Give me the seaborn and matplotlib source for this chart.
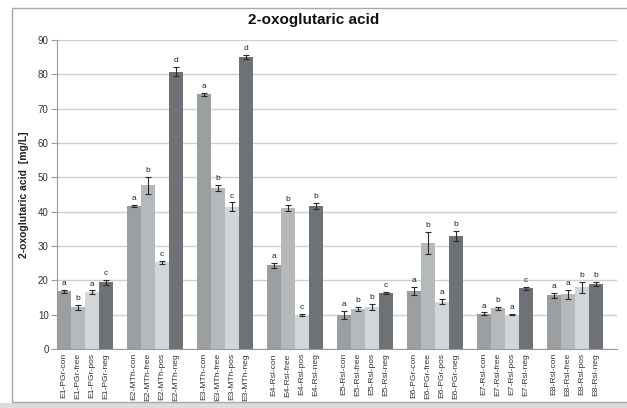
import numpy as np
import pandas as pd
import seaborn as sns
import matplotlib.pyplot as plt
from matplotlib.patches import Rectangle

groups = ["E1-PGr", "E2-MTh", "E3-MTh", "E4-Rsl", "E5-Rsl", "E6-PGr", "E7-Rsl", "E8-Rsl"]
treatments = ["con", "free", "pos", "neg"]

val_con = [16.8, 41.7, 74.2, 24.4, 9.8, 16.8, 10.3, 15.6]
val_free = [12.2, 47.7, 46.9, 41.0, 11.7, 31.0, 11.8, 16.0]
val_pos = [16.5, 25.2, 41.5, 10.0, 12.2, 13.8, 10.0, 18.0]
val_neg = [19.4, 80.8, 85.0, 41.7, 16.4, 33.0, 17.7, 18.9]

err_con = [0.4, 0.3, 0.5, 0.7, 1.2, 1.2, 0.4, 0.7]
err_free = [0.7, 2.5, 0.9, 0.8, 0.6, 3.2, 0.5, 1.3]
err_pos = [0.6, 0.5, 1.2, 0.3, 0.9, 0.8, 0.2, 1.6]
err_neg = [0.7, 1.3, 0.6, 0.8, 0.3, 1.5, 0.5, 0.6]

let_con = ["a", "a", "a", "a", "a", "a", "a", "a"]
let_free = ["b", "b", "b", "b", "b", "b", "b", "a"]
let_pos = ["a", "c", "c", "c", "b", "a", "a", "b"]
let_neg = ["c", "d", "d", "b", "c", "b", "c", "b"]

colors = {"con": "#9b9fa2", "free": "#b5b9bc", "pos": "#d3d6d8", "neg": "#6e7276"}

vals = {"con": val_con, "free": val_free, "pos": val_pos, "neg": val_neg}
errs = {"con": err_con, "free": err_free, "pos": err_pos, "neg": err_neg}
lets = {"con": let_con, "free": let_free, "pos": let_pos, "neg": let_neg}

rows = []
order = []
for i, g in enumerate(groups):
    for t in treatments:
        lab = f"{g}-{t}"
        order.append(lab)
        rows.append(dict(label=lab, treatment=t, value=vals[t][i], err=errs[t][i], letter=lets[t][i]))
    order.append(f"_gap{i}")
df = pd.DataFrame(rows)

sns.set_style("white")
plt.rcParams["font.family"] = ["Liberation Sans", "DejaVu Sans"]

fig = plt.figure(figsize=(6.27, 4.08), dpi=100)
fig.patches.append(Rectangle((0, 0), 1.0, 5 / 408, transform=fig.transFigure,
                             facecolor="#dcdcdc", edgecolor="none"))
fig.patches.append(Rectangle((12 / 627, 6 / 408), 1.0, 1 - 14 / 408, transform=fig.transFigure,
                             fill=False, edgecolor="#a8a8a8", linewidth=1.0))
ax = fig.add_axes([57 / 627, 1 - 349 / 408, 560 / 627, 309 / 408])

sns.barplot(data=df, x="label", y="value", hue="treatment", order=order, hue_order=treatments,
            palette=colors, dodge=False, width=1.0, errorbar=None, legend=False,
            saturation=1, linewidth=0, ax=ax)

pos = [order.index(l) for l in df["label"]]
ax.errorbar(pos, df["value"], yerr=df["err"], fmt="none", ecolor="#2a2a2a",
            elinewidth=0.8, capsize=2, capthick=0.8, zorder=4)
for x, v, e, l in zip(pos, df["value"], df["err"], df["letter"]):
    ax.text(x, v + e + 0.8, l, ha="center", va="bottom", fontsize=6, color="#222222")

ax.set_ylim(0, 90)
ax.set_xlim(-0.5, len(order) - 0.5)
ax.set_yticks(np.arange(0, 91, 10))
ax.yaxis.grid(True, color="#cfcfcf", linewidth=1.0)
ax.set_axisbelow(True)
ax.set_xticks(range(len(order)))
ax.set_xticklabels([("" if o.startswith("_gap") else o) for o in order], rotation=90,
                   fontsize=6.1, color="#333333")
ax.tick_params(axis="x", which="major", length=0, pad=3)
ax.set_xticks(np.arange(-0.5, len(order), 1), minor=True)
ax.tick_params(axis="x", which="minor", length=3, color="#9a9a9a", width=0.8)
ax.tick_params(axis="y", length=4, color="#9a9a9a", labelsize=7, labelcolor="#333333", pad=2, left=True)
for s in ["top", "right"]:
    ax.spines[s].set_visible(False)
ax.spines["left"].set_color("#9a9a9a")
ax.spines["bottom"].set_color("#9a9a9a")
ax.set_xlabel("")
ax.set_ylabel("2-oxoglutaric acid  [mg/L]", fontsize=7.5, fontweight="bold", color="#222222", labelpad=6)
fig.text(0.5, 1 - 20 / 408, "2-oxoglutaric acid", ha="center", va="center",
         fontsize=11, fontweight="bold", color="#111111")

fig.savefig("out.png", dpi=100)
